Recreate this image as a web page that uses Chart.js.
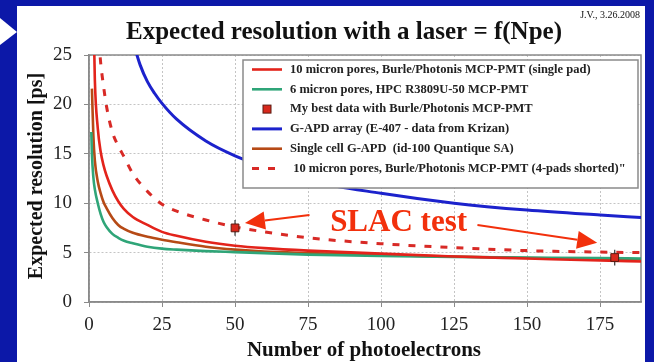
<!DOCTYPE html>
<html>
<head>
<meta charset="utf-8">
<script src="https://cdn.jsdelivr.net/npm/chart.js@4.4.0/dist/chart.umd.min.js"></script>
<style>
html,body{margin:0;padding:0;background:#0c18a8;overflow:hidden;}
canvas{display:block;}
</style>
</head>
<body>
<canvas id="grafica" width="654" height="362"></canvas>
<script>
// numero de fotoelectrones (x) y resolucion esperada [ps] (y) por serie
const npeUnPad = [1.5, 2, 3, 4, 5, 6, 8, 10, 12, 15, 20, 25, 30, 40, 50, 60, 75, 100, 125, 150, 175, 189];
const resUnPad = [30, 22.5, 17.6, 15.2, 13.8, 12.8, 11.3, 10.2, 9.4, 8.6, 7.8, 7.1, 6.7, 6.1, 5.7, 5.45, 5.2, 4.9, 4.6, 4.4, 4.2, 4.1];

const npeHpc = [0.8, 1, 1.5, 2, 3, 4, 5, 6, 8, 10, 12, 15, 20, 25, 30, 40, 50, 60, 75, 100, 125, 150, 175, 189];
const resHpc = [17.2, 15.0, 12.6, 11.4, 10.0, 8.9, 8.1, 7.6, 6.9, 6.5, 6.2, 5.95, 5.6, 5.4, 5.3, 5.15, 5.05, 4.95, 4.8, 4.65, 4.55, 4.5, 4.45, 4.4];

const npeArray = [15, 17.5, 20, 22.5, 25, 30, 40, 50, 60, 75, 100, 125, 150, 175, 189];
const resArray = [26.4, 24.0, 22.3, 21.1, 20.1, 18.5, 16.3, 14.8, 13.7, 12.3, 11.0, 10.0, 9.3, 8.8, 8.55];

const npeCelda = [1, 1.5, 2, 3, 4, 5, 6, 8, 10, 12, 15, 20, 25, 30, 40, 50, 60, 75, 100, 125, 150, 175, 189];
const resCelda = [21.6, 16.8, 14.3, 12.2, 11.0, 10.1, 9.5, 8.5, 7.8, 7.4, 7.0, 6.6, 6.3, 6.05, 5.6, 5.3, 5.1, 4.95, 4.75, 4.6, 4.45, 4.35, 4.3];

const npe4Pads = [3, 4, 5, 6, 8, 10, 12, 15, 20, 25, 30, 40, 50, 60, 75, 100, 125, 150, 175, 189];
const res4Pads = [28, 24.2, 21.8, 19.8, 17.2, 15.8, 14.7, 13.0, 11.2, 9.9, 9.2, 8.3, 7.6, 7.1, 6.5, 5.9, 5.5, 5.2, 5.05, 5.0];

// mis mejores datos (SLAC test)
const slacNpe = [50, 180];
const slacRes = [7.5, 4.5];
const slacErr = [0.8, 0.8];

// ticks
const xTicks = [0, 25, 50, 75, 100, 125, 150, 175];
const yTicks = [0, 5, 10, 15, 20, 25];

const fuente = '"Liberation Serif", "Times New Roman", serif';
const puntos = (xs, ys) => xs.map((n, i) => ({x: n, y: ys[i]}));

const fondo = {
  id: 'fondo',
  beforeDraw(chart) {
    const c = chart.ctx;
    c.save();
    c.fillStyle = '#0c18a8';
    c.fillRect(0, 0, chart.width, chart.height);
    c.fillStyle = '#ffffff';
    c.fillRect(17, 6, 628, 356);
    c.beginPath();
    c.moveTo(0, 18); c.lineTo(17, 32); c.lineTo(0, 45);
    c.closePath(); c.fill();

    c.fillStyle = '#111';
    c.textAlign = 'center';
    c.textBaseline = 'middle';
    c.font = 'bold 25px ' + fuente;
    c.fillText('Expected resolution with a laser = f(Npe)', 344, 33);

    c.font = '10px ' + fuente;
    c.textAlign = 'right';
    c.fillText('J.V., 3.26.2008', 640, 15);

    c.textAlign = 'center';
    c.font = 'bold 21px ' + fuente;
    c.fillText('Number of photoelectrons', 364, 351);
    c.font = 'bold 20px ' + fuente;
    c.translate(37, 176);
    c.rotate(-Math.PI / 2);
    c.fillText('Expected resolution [ps]', 0, 0);
    c.restore();
  },
  beforeDatasetsDraw(chart) {
    const a = chart.chartArea, c = chart.ctx;
    c.save();
    c.strokeStyle = '#8a8a8a';
    c.lineWidth = 1.5;
    c.strokeRect(a.left, a.top, a.right - a.left, a.bottom - a.top);
    c.restore();
  },
  beforeDatasetDraw(chart, args) {
    if (args.index !== 2) return;
    const c = chart.ctx, xs = chart.scales.x, ys = chart.scales.y;
    c.save();
    c.strokeStyle = '#333';
    c.lineWidth = 1.2;
    slacNpe.forEach((n, i) => {
      const px = xs.getPixelForValue(n);
      c.beginPath();
      c.moveTo(px, ys.getPixelForValue(slacRes[i] - slacErr[i]));
      c.lineTo(px, ys.getPixelForValue(slacRes[i] + slacErr[i]));
      c.stroke();
    });
    c.restore();
  }
};

const leyenda = {
  id: 'leyenda',
  afterDatasetsDraw(chart) {
    const c = chart.ctx;
    const x0 = 243, y0 = 60, w = 395, h = 128;
    c.save();
    c.fillStyle = '#fff';
    c.fillRect(x0, y0, w, h);
    c.strokeStyle = '#8a8a8a';
    c.lineWidth = 1.5;
    c.strokeRect(x0, y0, w, h);
    c.font = 'bold 12.5px ' + fuente;
    c.textBaseline = 'middle';
    c.textAlign = 'left';
    chart.data.datasets.forEach((ds, i) => {
      const y = y0 + 9.5 + i * 19.8;
      if (ds.showLine === false) {
        c.fillStyle = ds.backgroundColor;
        c.strokeStyle = ds.borderColor;
        c.lineWidth = 1;
        c.fillRect(263, y - 4, 8, 8);
        c.strokeRect(263, y - 4, 8, 8);
      } else {
        c.strokeStyle = ds.borderColor;
        c.lineWidth = ds.borderWidth;
        c.setLineDash(ds.borderDash || []);
        c.beginPath();
        c.moveTo(252, y); c.lineTo(282, y);
        c.stroke();
        c.setLineDash([]);
      }
      c.fillStyle = '#222';
      c.fillText(ds.label, 290, y);
    });
    c.restore();
  }
};

const slac = {
  id: 'slac',
  afterDraw(chart) {
    const c = chart.ctx, xs = chart.scales.x, ys = chart.scales.y;
    const P = (x, y) => [xs.getPixelForValue(x), ys.getPixelForValue(y)];
    const flecha = (de, a) => {
      const [x1, y1] = P(de[0], de[1]);
      const [x2, y2] = P(a[0], a[1]);
      const ang = Math.atan2(y2 - y1, x2 - x1);
      const L = 20, W = 9;
      const bx = x2 - L * Math.cos(ang), by = y2 - L * Math.sin(ang);
      c.beginPath();
      c.moveTo(x1, y1); c.lineTo(bx, by);
      c.stroke();
      c.beginPath();
      c.moveTo(x2, y2);
      c.lineTo(bx + W * Math.sin(ang), by - W * Math.cos(ang));
      c.lineTo(bx - W * Math.sin(ang), by + W * Math.cos(ang));
      c.closePath();
      c.fill();
    };
    c.save();
    c.fillStyle = '#f2300c';
    c.strokeStyle = '#f2300c';
    c.lineWidth = 2;
    flecha([75.5, 8.8], [53.4, 8.0]);
    flecha([133, 7.8], [174, 6.0]);
    c.font = 'bold 31px ' + fuente;
    c.textAlign = 'center';
    c.textBaseline = 'middle';
    const [tx, ty] = P(106, 8.0);
    c.fillText('SLAC test', tx, ty);
    c.restore();
  }
};

const linea = (label, xs, ys, color, extra) => Object.assign({
  label: label,
  data: puntos(xs, ys),
  borderColor: color,
  backgroundColor: color,
  borderWidth: 2.6,
  pointRadius: 0,
  cubicInterpolationMode: 'monotone',
  clip: 0
}, extra || {});

new Chart(document.getElementById('grafica'), {
  type: 'line',
  data: {
    datasets: [
      linea('10 micron pores, Burle/Photonis MCP-PMT (single pad)', npeUnPad, resUnPad, '#e3231b'),
      linea('6 micron pores, HPC R3809U-50 MCP-PMT', npeHpc, resHpc, '#2fa578'),
      {
        label: 'My best data with Burle/Photonis MCP-PMT',
        data: puntos(slacNpe, slacRes),
        showLine: false,
        pointStyle: 'rect',
        pointRadius: 5.5,
        backgroundColor: '#d8281c',
        borderColor: '#5a1a10',
        borderWidth: 1,
        order: -1
      },
      linea('G-APD array (E-407 - data from Krizan)', npeArray, resArray, '#1c22cc', {borderWidth: 3}),
      linea('Single cell G-APD  (id-100 Quantique SA)', npeCelda, resCelda, '#b64a16'),
      linea(' 10 micron pores, Burle/Photonis MCP-PMT (4-pads shorted)"', npe4Pads, res4Pads, '#d82a26', {borderWidth: 3, borderDash: [7, 9]})
    ]
  },
  options: {
    responsive: false,
    animation: false,
    layout: {autoPadding: false, padding: {left: 17, right: 13, top: 55, bottom: 0}},
    plugins: {legend: {display: false}, tooltip: {enabled: false}},
    scales: {
      x: {
        type: 'linear',
        min: 0,
        max: 189,
        afterBuildTicks: s => { s.ticks = xTicks.map(v => ({value: v})); },
        afterFit: s => { s.height = 60; },
        ticks: {font: {family: fuente, size: 19}, color: '#222', padding: 7, maxRotation: 0},
        grid: {color: '#c4c4c4', tickColor: '#8a8a8a', tickLength: 5, tickBorderDash: []},
        border: {color: '#8a8a8a', width: 1.5, dash: [2, 2]}
      },
      y: {
        min: 0,
        max: 25,
        afterBuildTicks: s => { s.ticks = yTicks.map(v => ({value: v})); },
        afterFit: s => { s.width = 72; },
        ticks: {font: {family: fuente, size: 19}, color: '#222', padding: 12},
        grid: {color: '#c4c4c4', tickColor: '#8a8a8a', tickLength: 5, tickBorderDash: []},
        border: {color: '#8a8a8a', width: 1.5, dash: [2, 2]}
      }
    }
  },
  plugins: [fondo, leyenda, slac]
});
</script>
</body>
</html>
